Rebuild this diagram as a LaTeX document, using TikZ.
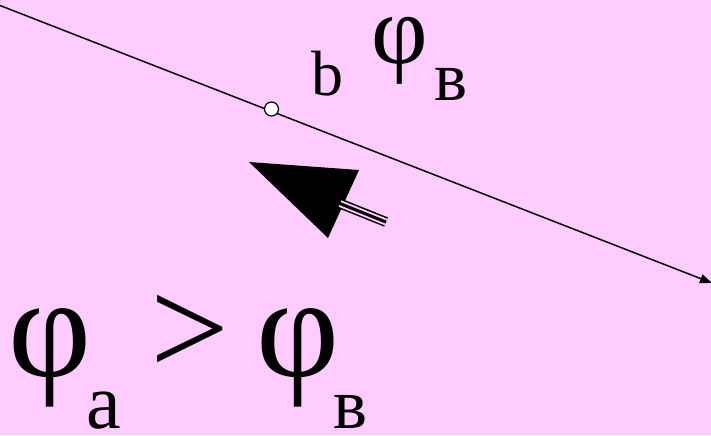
\documentclass[tikz,border=0pt]{standalone}
\usepackage{fontspec}
\setmainfont{Liberation Serif}
\usepackage{xcolor}
\usepackage{tikz}
\usetikzlibrary{arrows.meta}
\definecolor{slidepink}{RGB}{255,204,255}
\newcommand{\glyphsize}[1]{\fontsize{#1}{#1}\selectfont}

\begin{document}
\begin{tikzpicture}[x=0.5pt,y=-0.5pt,
    every node/.style={inner sep=0pt,outer sep=0pt,anchor=base west},
    fieldline/.style={line width=0.75pt,-{Triangle[length=6pt,width=4.5pt]}},
    ptmark/.style={circle,draw,fill=white,line width=0.6pt,minimum size=7pt,anchor=center}]

    % Background
    \fill[slidepink] (0,0) rectangle (711,435);
    \useasboundingbox (0,0) rectangle (711,435);

    % Line through point b
    \coordinate (lineS) at (0,5.5);
    \coordinate (lineE) at (712,283);
    \draw[fieldline] (lineS) -- (lineE);
    \node[ptmark] (ptb) at (271.5,109) {};

    % Big arrow (head and triple shaft)
    \coordinate (tip) at (249,162);
    \coordinate (headR) at (359,170);
    \coordinate (headB) at (328,238);
    \coordinate (tailS) at (340,203.5);
    \coordinate (tailE) at (386,222);
    \fill (tip) -- (headR) -- (headB) -- cycle;
    \draw[line width=5pt] (tailS) -- (tailE);
    \draw[slidepink,line width=0.9pt]
      ([shift={(-1.0,2.4)}]tailS) -- ([shift={(-1.0,2.4)}]tailE);
    \draw[slidepink,line width=0.9pt]
      ([shift={(0.95,-2.3)}]tailS) -- ([shift={(0.95,-2.3)}]tailE);

    % Labels at b
    \node (labb) at (311,95) {\glyphsize{32}b};
    \node (phiTop) at (371,63) {\glyphsize{49}φ};
    \node (veTop) at (434,100) {\glyphsize{35}в};

    % Inequality
    \node (phiA) at (9,376) {\glyphsize{72}φ};
    \node (subA) at (86,428) {\glyphsize{39}a};
    \node (gtSign) at (150,375) {\glyphsize{70}>};
    \node (phiB) at (256,376) {\glyphsize{72}φ};
    \node (subB) at (333,428) {\glyphsize{36}в};

  \end{tikzpicture}
\end{document}
